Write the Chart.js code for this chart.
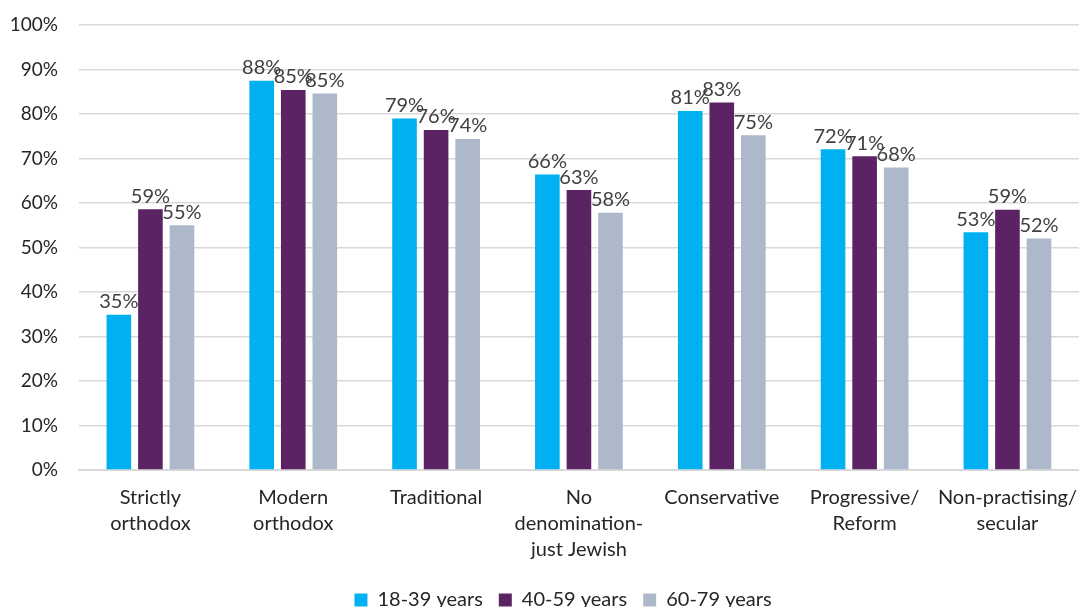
<!DOCTYPE html>
<html>
<head>
<meta charset="utf-8">
<script src="https://cdn.jsdelivr.net/npm/chart.js@4"></script>
<style>
  html, body { margin: 0; padding: 0; background: #fff; overflow: hidden; }
  #wrap { position: relative; width: 1092px; height: 620px; }
</style>
</head>
<body>
<div id="wrap"><canvas id="chart"></canvas></div>
<script>
// categories and series
const categories = [
  ['Strictly', 'orthodox'],
  ['Modern', 'orthodox'],
  ['Traditional'],
  ['No', 'denomination-', 'just Jewish'],
  ['Conservative'],
  ['Progressive/', 'Reform'],
  ['Non-practising/', 'secular']
];
const seriesNames = ['18-39 years', '40-59 years', '60-79 years'];
const young = [34.9, 87.5, 79.0, 66.4, 80.7, 72.1, 53.4];
const middle = [58.6, 85.4, 76.4, 62.9, 82.6, 70.5, 58.5];
const older = [55.0, 84.6, 74.4, 57.8, 75.2, 68.0, 52.0];
const colors = ['#00b0f0', '#5b2363', '#adb9ca'];

const FONT = 'Lato, "Open Sans", sans-serif';

// draws the value above each bar, like Excel's outside-end labels
const valueLabels = {
  id: 'valueLabels',
  afterDatasetsDraw(chart) {
    const ctx = chart.ctx;
    ctx.save();
    ctx.font = '20px ' + FONT;
    ctx.fillStyle = '#404040';
    ctx.textAlign = 'center';
    ctx.textBaseline = 'bottom';
    chart.data.datasets.forEach((ds, i) => {
      chart.getDatasetMeta(i).data.forEach((bar, j) => {
        ctx.fillText(Math.round(ds.data[j]) + '%', bar.x, bar.y - 3);
      });
    });
    ctx.restore();
  }
};

// Excel centres the legend a bit right of the canvas middle
const legendShift = {
  id: 'legendShift',
  afterLayout(chart) {
    chart.legend.left += 17;
    chart.legend.right += 17;
  }
};

const series = [young, middle, older];

new Chart(document.getElementById('chart').getContext('2d'), {
  type: 'bar',
  data: {
    labels: categories,
    datasets: series.map((d, i) => ({
      label: seriesNames[i],
      data: d,
      backgroundColor: colors[i],
      categoryPercentage: 0.663,
      barPercentage: 0.78
    }))
  },
  options: {
    responsive: true,
    maintainAspectRatio: false,
    animation: false,
    layout: { padding: { top: 0, left: 0, right: 0, bottom: 0 } },
    scales: {
      x: {
        afterFit: s => { s.height -= 4; },
        grid: { display: false, drawTicks: false },
        border: { color: '#d9d9d9', width: 2 },
        ticks: {
          color: '#262626',
          font: { family: FONT, size: 20, lineHeight: 1.3 },
          padding: 15,
          maxRotation: 0,
          autoSkip: false
        }
      },
      y: {
        min: 0,
        max: 100,
        afterFit: s => { s.width = 79; s.paddingTop = 25; },
        grid: { color: '#d9d9d9', lineWidth: 1.5, drawTicks: false },
        border: { display: false },
        ticks: {
          stepSize: 10,
          color: '#262626',
          font: { family: FONT, size: 19 },
          padding: 21,
          callback: v => v + '%'
        }
      }
    },
    plugins: {
      title: { display: false },
      tooltip: { enabled: false },
      legend: {
        display: true,
        position: 'bottom',
        labels: {
          boxWidth: 13,
          boxHeight: 13,
          padding: 16,
          color: '#262626',
          font: { family: FONT, size: 20 }
        }
      }
    }
  },
  plugins: [valueLabels, legendShift]
});
</script>
</body>
</html>
